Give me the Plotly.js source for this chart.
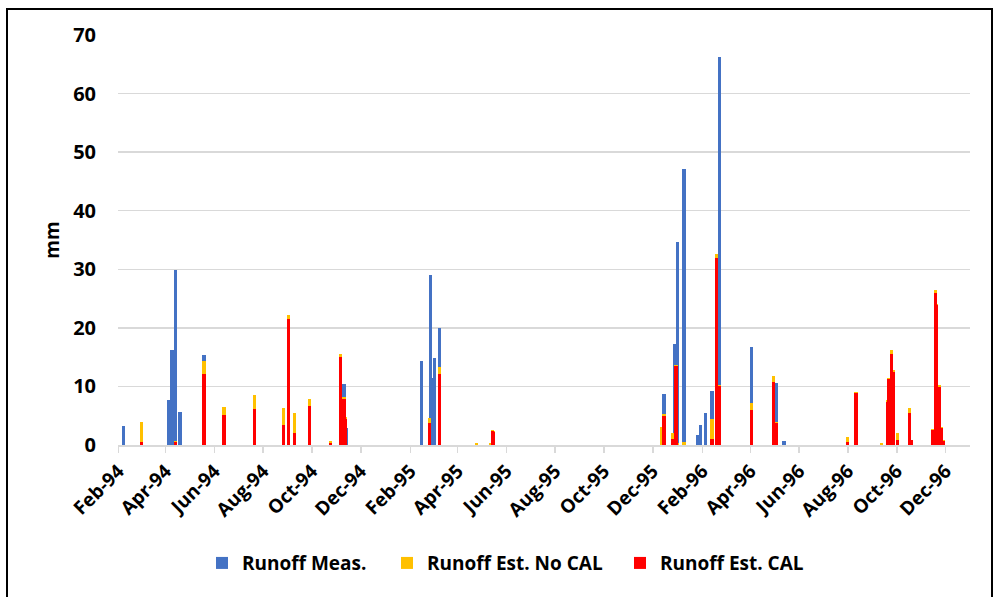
<!DOCTYPE html>
<html>
<head>
<meta charset="utf-8">
<script src="https://cdn.plot.ly/plotly-3.0.1.min.js"></script>
<style>
  html, body { margin: 0; padding: 0; background: #fff; }
  #wrap { position: relative; width: 1002px; height: 597px; overflow: hidden; }
  #chart { width: 1002px; height: 597px; }
  #frame { position: absolute; left: 6px; top: 8px; width: 987px; height: 600px; border: 2px solid #000; pointer-events: none; box-sizing: border-box; }
</style>
</head>
<body>
<div id="wrap">
  <div id="chart"></div>
  <div id="frame"></div>
</div>
<script>
// Daily runoff (mm)
const dates = [
  '1994-02-07','1994-03-02','1994-04-05','1994-04-09','1994-04-13','1994-04-19',
  '1994-05-19','1994-06-13','1994-07-21','1994-08-26','1994-09-02','1994-09-09',
  '1994-09-28','1994-10-24','1994-11-06','1994-11-10','1994-11-12','1994-11-13',
  '1995-02-15','1995-02-25','1995-02-26','1995-02-28','1995-03-01','1995-03-03','1995-03-09',
  '1995-04-25','1995-05-12','1995-05-15','1995-05-16',
  '1995-12-12','1995-12-15','1995-12-26','1995-12-28','1995-12-30','1996-01-01',
  '1996-01-09','1996-01-26','1996-01-30','1996-02-05','1996-02-13','1996-02-19','1996-02-22',
  '1996-04-02','1996-04-30','1996-05-03','1996-05-13',
  '1996-07-31','1996-08-11','1996-09-12','1996-09-19','1996-09-21','1996-09-24','1996-09-27',
  '1996-10-02','1996-10-17','1996-10-19',
  '1996-11-15','1996-11-18','1996-11-20','1996-11-23','1996-11-26','1996-11-28'
];
const runoffMeas = [
  3.2, 0, 7.7, 16.2, 29.8, 5.7,
  15.4, 0, 0, 0, 0, 0,
  0, 0, 0, 10.4, 0, 2.9,
  14.3, 0, 29.0, 11.4, 11.4, 14.9, 20.0,
  0, 0, 0, 0,
  0, 8.65, 0, 17.2, 17.2, 34.7,
  47.1, 1.7, 3.5, 5.4, 9.2, 0, 66.2,
  16.8, 0, 10.6, 0.6,
  0, 0, 0, 0, 0, 0, 0,
  0, 0, 0,
  0, 0, 0, 0, 0, 0
];
const runoffNoCal = [
  0, 4.0, 0, 0, 0.6, 0,
  14.4, 6.5, 8.5, 6.3, 22.2, 5.4,
  7.9, 0.7, 15.6, 8.2, 4.8, 0,
  0, 4.55, 0, 0, 0, 0, 13.3,
  0.3, 0.4, 2.5, 2.4,
  3.1, 5.3, 2.0, 2.0, 13.6, 0.4,
  0.5, 0, 0, 0, 4.4, 32.6, 10.3,
  7.2, 11.7, 4.0, 0,
  1.4, 9.1, 0.4, 7.6, 11.5, 16.2, 12.8,
  2.1, 6.4, 0.9,
  2.8, 26.5, 24.0, 10.2, 3.0, 0.8
];
const runoffCal = [
  0, 0.5, 0, 0, 0.5, 0,
  12.2, 5.2, 6.1, 3.5, 21.5, 2.0,
  6.7, 0.3, 15.1, 7.8, 4.5, 0,
  0, 3.7, 0, 0, 0, 0, 12.1,
  0, 0, 2.45, 2.3,
  0, 4.95, 1.0, 1.0, 13.5, 0,
  0, 0, 0, 0, 1.0, 32.0, 10.0,
  6.0, 10.8, 3.7, 0,
  0.5, 8.9, 0, 7.4, 11.2, 15.6, 12.4,
  0.8, 5.4, 0.8,
  2.6, 26.0, 23.9, 9.95, 2.85, 0.7
];
const seriesNames = ['Runoff Meas.', 'Runoff Est. No CAL', 'Runoff Est. CAL'];
const seriesColors = ['#4472C4', '#FFC000', '#FF0000'];
const yTicks = [0, 10, 20, 30, 40, 50, 60, 70];

const DAY = 86400000;
const barWidth = 4 * DAY;
const seriesValues = [runoffMeas, runoffNoCal, runoffCal];
const legendIds = ['legend', 'legend2', 'legend3'];
const legendX = [0.0986, 0.3157, 0.5892];

const traces = seriesValues.map((vals, i) => ({
  type: 'bar',
  x: dates,
  y: vals,
  name: seriesNames[i],
  legend: legendIds[i],
  width: dates.map(() => barWidth),
  marker: { color: seriesColors[i], line: { width: 0 } },
  hoverinfo: 'x+y+name'
}));

const FONT = 'Open Sans, Noto Sans, Liberation Sans, sans-serif';
const legendFont = { family: FONT, size: 19, weight: 'bold', color: '#000' };

const layout = {
  width: 1002,
  height: 597,
  margin: { l: 118, r: 32, t: 35, b: 152 },
  paper_bgcolor: '#ffffff',
  plot_bgcolor: '#ffffff',
  barmode: 'overlay',
  bargap: 0,
  showlegend: true,
  font: { family: FONT, color: '#000', size: 20 },
  xaxis: {
    type: 'date',
    range: ['1994-01-31 12:00', '1996-12-31 12:00'],
    tick0: '1994-02-01',
    dtick: 'M2',
    tickformat: '%b-%y',
    tickangle: -45,
    tickfont: { family: FONT, size: 19, weight: 'bold', color: '#000' },
    ticks: 'outside',
    ticklen: 6,
    tickwidth: 1.5,
    tickcolor: '#D9D9D9',
    showline: true,
    linecolor: '#D9D9D9',
    linewidth: 1.5,
    showgrid: false,
    zeroline: false,
    fixedrange: true
  },
  yaxis: {
    range: [0, 70],
    tickvals: yTicks,
    ticktext: yTicks.map(String),
    tickfont: { family: FONT, size: 20, weight: 'bold', color: '#000' },
    ticks: '',
    ticklabelstandoff: 21,
    showline: false,
    showgrid: true,
    gridcolor: '#D9D9D9',
    gridwidth: 1.5,
    zeroline: false,
    title: { text: 'mm', font: { family: FONT, size: 19, weight: 'bold', color: '#000' }, standoff: 8 },
    fixedrange: true
  }
};
legendIds.forEach((id, i) => {
  layout[id] = {
    orientation: 'h',
    x: legendX[i],
    xanchor: 'left',
    y: -0.288,
    yanchor: 'middle',
    font: legendFont,
    itemwidth: 30,
    bgcolor: 'rgba(0,0,0,0)'
  };
});

Plotly.newPlot('chart', traces, layout, { displayModeBar: false, staticPlot: true });
</script>
</body>
</html>
